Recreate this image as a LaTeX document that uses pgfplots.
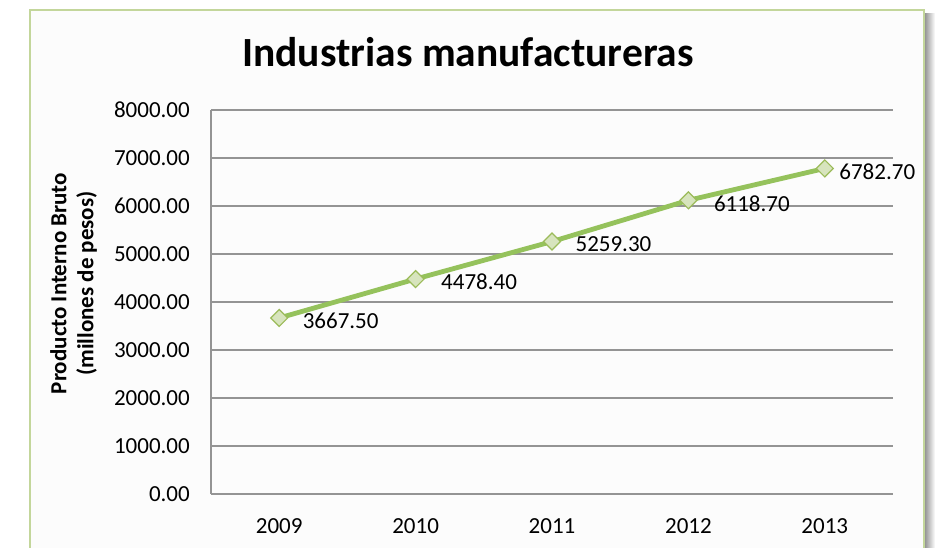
\documentclass[border=0pt]{standalone}
\usepackage{pgfplots}
\pgfplotsset{compat=1.18}
\usepackage{pgfplotstable}
\usepackage{fontspec}
\setmainfont{Carlito}
\definecolor{lineGreen}{HTML}{95C25C}
\definecolor{markFill}{HTML}{D7E4BD}
\definecolor{markEdge}{HTML}{9BBB59}
\definecolor{frameGreen}{HTML}{C3D69B}
\definecolor{gridGray}{HTML}{949494}
\pgfplotstableread{
x y lab dx
0 3667.5 3667.50 23
1 4478.4 4478.40 25
2 5259.3 5259.30 23
3 6118.7 6118.70 25
4 6782.7 6782.70 14
}\datatable
\begin{document}
\begin{tikzpicture}
\useasboundingbox (0,0) rectangle (935bp,548bp);
\clip (0,0) rectangle (935bp,548bp);
\fill[white] (0,0) rectangle (935bp,548bp);
\shade[left color=black!45, right color=white] (924bp,-10bp) rectangle (935bp,534bp);
\draw[frameGreen, line width=1.5bp, fill=black!1] (30bp,-20bp) rectangle (924bp,538bp);
\node[anchor=base, font=\fontsize{41.5bp}{48bp}\selectfont\bfseries] at (468bp,481bp) {Industrias manufactureras};
\begin{axis}[
  at={(211bp,54bp)}, anchor=south west,
  width=682bp, height=384bp, scale only axis,
  xmin=-0.5, xmax=4.5, ymin=0, ymax=8000,
  xtick={0,1,2,3,4}, xticklabels={2009,2010,2011,2012,2013},
  ytick={0,1000,...,8000},
  axis x line*=bottom, axis y line*=left,
  axis line style={gridGray, line width=1.5bp, -},
  major tick length=0pt,
  ymajorgrids, grid style={gridGray, line width=1.3bp},
  /pgf/number format/assume math mode=true,
  yticklabel={\pgfmathprintnumber[fixed, fixed zerofill, precision=2, 1000 sep={}]{\tick}},
  ticklabel style={font=\fontsize{23bp}{27bp}\selectfont, inner sep=0pt},
  yticklabel style={anchor=east, xshift=-21bp},
  xticklabel style={anchor=north, yshift=-24bp},
  ylabel={Producto Interno Bruto\\(millones de pesos)},
  ylabel style={at={(axis description cs:-0.2016,0.548)}, anchor=center, align=center, font=\fontsize{23bp}{27bp}\selectfont\bfseries},
  clip=false,
]
\addplot[lineGreen, line width=4.8bp, mark=square*, mark size=6bp,
  mark options={rotate=45, fill=markFill, draw=markEdge, line width=1.2bp},
  point meta=explicit symbolic,
  visualization depends on={\thisrow{dx}\as\dx},
  nodes near coords,
  every node near coord/.append style={anchor=west, inner sep=0pt, xshift=\dx bp, yshift=-3bp, font=\fontsize{23bp}{27bp}\selectfont, text=black}
] table[x=x, y=y, meta=lab] {\datatable};
\end{axis}
\end{tikzpicture}
\end{document}
